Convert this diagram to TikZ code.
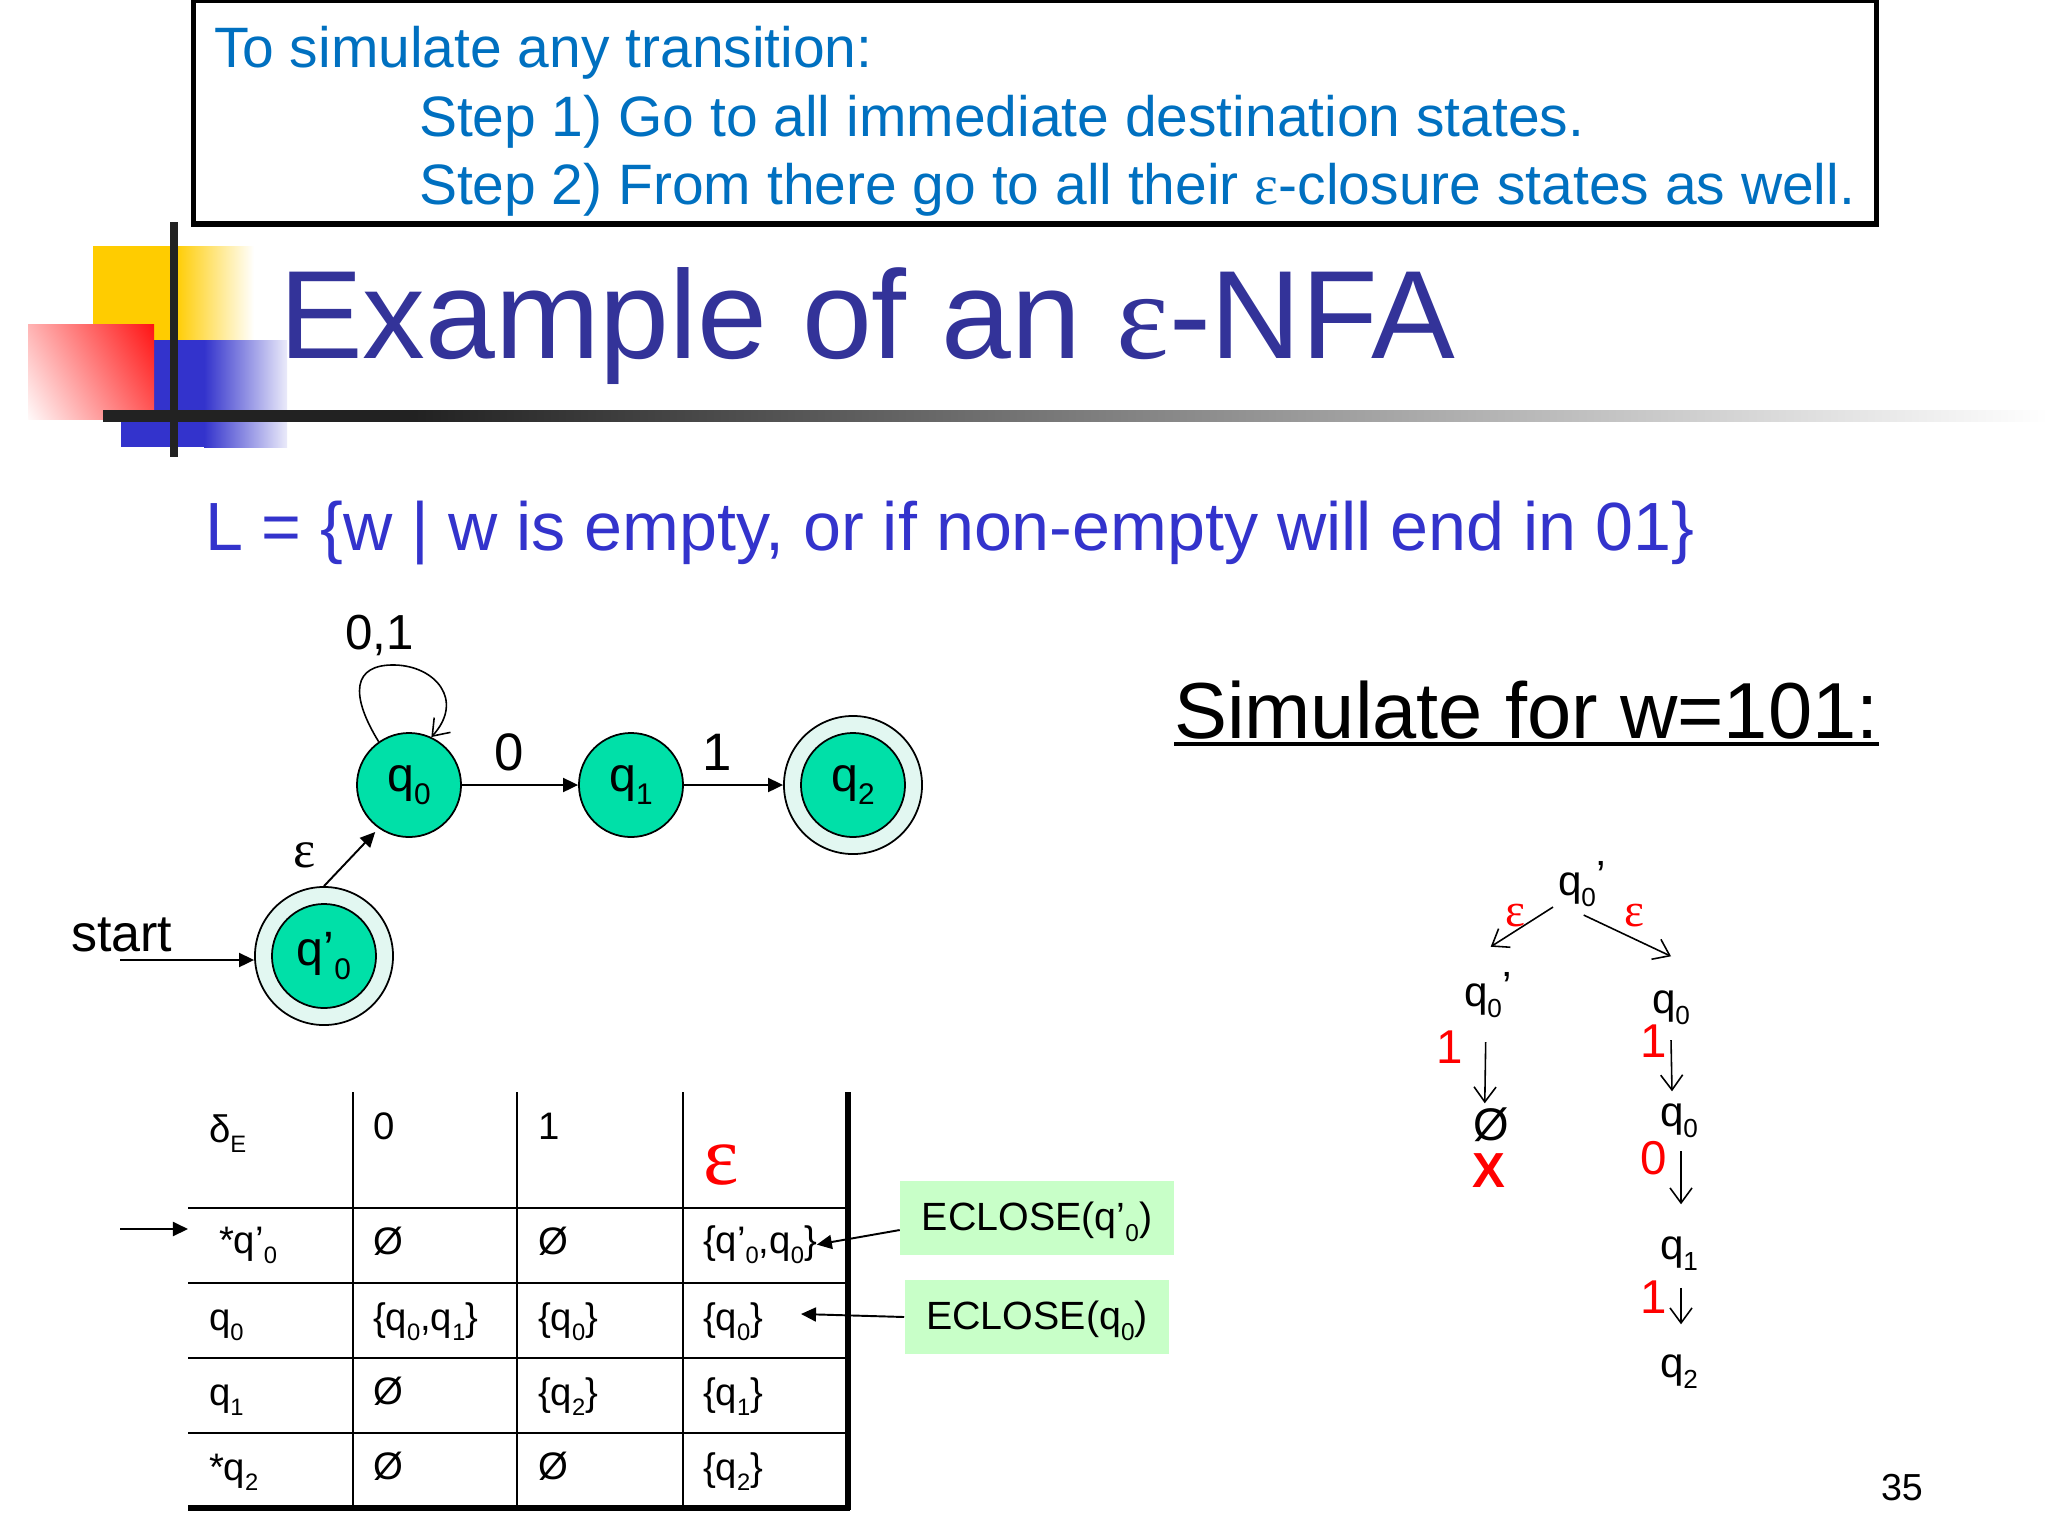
\documentclass[tikz,border=0pt]{standalone}
\usepackage{graphicx}
\usepackage{fontspec}
\setmainfont{Liberation Sans}
\newfontfamily\serifeps{Liberation Serif}
\usetikzlibrary{arrows.meta}
\definecolor{notecolor}{HTML}{0070C0}
\definecolor{titlecolor}{HTML}{333399}
\definecolor{langcolor}{HTML}{3333CC}
\definecolor{statecolor}{HTML}{00E0A8}
\definecolor{ringcolor}{HTML}{E2F7F1}
\definecolor{closecolor}{HTML}{C8FFC8}
\definecolor{barblue}{HTML}{3333CC}
\definecolor{baryellow}{HTML}{FFCC00}
\definecolor{barblack}{HTML}{222222}
\pgfdeclarehorizontalshading{barfade}{100bp}{color(0bp)=(barblack); color(33bp)=(barblack); color(75bp)=(white); color(100bp)=(white)}
\pgfdeclareverticalshading{redfade}{100bp}{color(0bp)=(white); color(14bp)=(white); color(90bp)=(red); color(100bp)=(red)}
\newcommand{\eps}{{\serifeps ε}}
\newcommand{\lowsub}[1]{\raisebox{-0.28em}{\scalebox{0.62}{#1}}}
\newcommand{\qs}[1]{q\lowsub{#1}}
\newcommand{\qp}[1]{q’\lowsub{#1}}
\newcommand{\fsz}[1]{\fontsize{#1pt}{#1pt}\selectfont}
\tikzset{
  txt/.style={inner sep=0pt,outer sep=0pt,anchor=base west},
  notetxt/.style={txt,text=notecolor,font=\fsz{16.2}},
  cell/.style={txt,font=\fsz{10.9}},
  treetxt/.style={txt,font=\fsz{12}},
  redtxt/.style={inner sep=0pt,text=red,font=\fsz{13.5}},
  state/.style={circle,draw,line width=0.5pt,fill=statecolor,minimum size=1.04cm,inner sep=0pt,font=\fsz{13.7}},
  ring/.style={circle,draw,line width=0.5pt,fill=ringcolor,minimum size=1.38cm,inner sep=0pt},
  edge/.style={line width=0.55pt,-{Triangle[length=1.5mm,width=1.4mm]}},
  opena/.style={line width=0.45pt,-{Straight Barb[length=1.5mm,width=2.2mm]}},
  closebox/.style={fill=closecolor,inner sep=0pt,font=\fsz{11.2},text height=9pt,text depth=2pt},
}
\begin{document}
\begin{tikzpicture}[x=0.01cm,y=-0.01cm]
    \useasboundingbox (0,0) rectangle (2048,1536);

    % Note box on top
    \node[draw,line width=1.5pt,minimum width=16.82cm,minimum height=2.24cm,inner sep=0pt] (notebox) at (1035,112) {};
    \node[notetxt] (note1) at (214,67) {To simulate any transition:};
    \node[notetxt] (note2) at (419,136) {Step 1) Go to all immediate destination states.};
    \node[notetxt] (note3) at (419,204) {Step 2) From there go to all their \eps-closure states as well.};

    % Coloured squares of the slide
    \fill[baryellow] (93,246) rectangle (176,341);
    \shade[left color=baryellow,right color=white] (175,246) rectangle (254,341);
    \fill[barblue] (121,340) rectangle (205,447);
    \shade[left color=barblue,right color=white!90!barblue] (204,340) rectangle (287,447);
    \shade[shading=redfade,shading angle=-60] (28,324) rectangle (154,419);
    \fill[barblack] (170,222) rectangle (178,457);
    \shade[shading=barfade] (103,410) rectangle (2048,421);

    % Title and language
    \node[txt,text=titlecolor,font=\fsz{35.7}] (title) at (279,358) {Example of an \eps-NFA};
    \node[txt,text=langcolor,font=\fsz{19.4}] (lang) at (205,550) {L = \{w | w is empty, or if non-empty will end in 01\}};

    % The automaton
    \node[state] (q0) at (409,785) {\qs{0}};
    \node[state] (q1) at (631,785) {\qs{1}};
    \node[ring] (q2r) at (853,785) {};
    \node[state] (q2) at (853,785) {\qs{2}};
    \node[ring] (qsr) at (324,956) {};
    \node[state] (qs) at (324,956) {\qp{0}};
    \coordinate (startpt) at (120,960);
    \node[txt,font=\fsz{14.8}] (startlab) at (71,951) {start};
    \node[txt,font=\fsz{14}] (looplab) at (345,649) {0,1};
    \node[inner sep=0pt,font=\fsz{15}] (q0lab) at (509,752) {0};
    \node[inner sep=0pt,font=\fsz{15}] (q1lab) at (717,752) {1};
    \node[inner sep=0pt,font=\fsz{15}] (epslab) at (305,855) {\eps};
    \draw[edge] (q0) -- (q1);
    \draw[edge] (q1) -- (q2r);
    \draw[edge] (startpt) -- (qsr.west |- startpt);
    \draw[edge,shorten >=0.5mm] (qsr.90) -- (q0.235);
    \draw[opena] (q0.125) .. controls (350,695) and (352,664) .. (395,665) .. controls (435,666) and (465,700) .. (q0.65);

    % Transition table
    \foreach \x in {353,517,683}
        \draw[line width=0.6pt] (\x,1092) -- (\x,1508);
    \foreach \y in {1208,1283,1358,1433}
        \draw[line width=0.8pt] (188,\y) -- (848,\y);
    \draw[line width=1.6pt] (188,1508) -- (850,1508);
    \draw[line width=1.6pt] (848,1092) -- (848,1510);

    % Table header
    \node[cell] (hd) at (209,1142) {δ\lowsub{E}};
    \node[cell] (hzero) at (373,1139) {0};
    \node[cell] (hone) at (538,1139) {1};
    \node[inner sep=0pt,text=red,font=\fsz{24}] (heps) at (721,1165) {\eps};

    % Table rows
    \node[cell] (r0) at (219,1253) {*\qp{0}};
    \node[cell] (r1) at (209,1330) {\qs{0}};
    \node[cell] (r2) at (209,1405) {\qs{1}};
    \node[cell] (r3) at (209,1480) {*\qs{2}};

    \node[cell] (c01) at (373,1254) {Ø};
    \node[cell] (c02) at (538,1254) {Ø};
    \node[cell] (c03) at (703,1253) {\{\qp{0},\qs{0}\}};
    \node[cell] (c11) at (373,1330) {\{\qs{0},\qs{1}\}};
    \node[cell] (c12) at (538,1330) {\{\qs{0}\}};
    \node[cell] (c13) at (703,1330) {\{\qs{0}\}};
    \node[cell] (c21) at (373,1404) {Ø};
    \node[cell] (c22) at (538,1405) {\{\qs{2}\}};
    \node[cell] (c23) at (703,1405) {\{\qs{1}\}};
    \node[cell] (c31) at (373,1479) {Ø};
    \node[cell] (c32) at (538,1479) {Ø};
    \node[cell] (c33) at (703,1480) {\{\qs{2}\}};

    % Start row arrow
    \coordinate (rowin) at (120,1229);
    \coordinate (rowend) at (188,1229);
    \draw[edge] (rowin) -- (rowend);

    % ECLOSE notes
    \node[closebox,minimum width=2.73cm,minimum height=0.74cm] (ecl0) at (1037,1218) {ECLOSE(\qp{0})};
    \node[closebox,minimum width=2.64cm,minimum height=0.74cm] (ecl1) at (1037,1317) {ECLOSE(\qs{0})};
    \coordinate (ecl1end) at (801,1314);
    \draw[edge] (ecl0.185) -- (c03.east);
    \draw[edge] (ecl1.west) -- (ecl1end);

    % Simulation title
    \node[txt,font=\fsz{22.6}] (simtitle) at (1174,738) {Simulate for w=101:};
    \draw[line width=0.9pt] ([yshift=-0.06cm]simtitle.base west) -- ([yshift=-0.06cm]simtitle.base east);

    % Simulation tree
    \node[treetxt] (t0) at (1558,895) {\qs{0}\raisebox{0.1em}{’}};
    \node[treetxt] (tl) at (1464,1006) {\qs{0}\raisebox{0.1em}{’}};
    \node[treetxt] (tr) at (1652,1013) {\qs{0}};
    \node[txt,font=\fsz{13}] (tnull) at (1473,1140) {Ø};
    \node[txt,text=red,font=\fsz{14}\bfseries] (tx) at (1472,1187) {X};
    \node[treetxt] (tq0) at (1660,1126) {\qs{0}};
    \node[treetxt] (tq1) at (1660,1259) {\qs{1}};
    \node[treetxt] (tq2) at (1660,1377) {\qs{2}};

    \draw[opena] ([xshift=-0.05cm]t0.south west) -- ([xshift=0.03cm,yshift=0.26cm]tl.north);
    \draw[opena] ([xshift=0.02cm,yshift=-0.08cm]t0.south) -- ([yshift=0.34cm]tr.north);
    \draw[opena] ([xshift=-0.02cm,yshift=-0.24cm]tl.south) -- ([xshift=-0.06cm,yshift=0.04cm]tnull.north);
    \draw[opena] ([yshift=-0.15cm]tr.south) -- ([xshift=-0.07cm,yshift=0.12cm]tq0.north);
    \draw[opena] ([xshift=0.02cm,yshift=-0.13cm]tq0.south) -- ([xshift=0.02cm,yshift=0.32cm]tq1.north);
    \draw[opena] ([xshift=0.02cm,yshift=-0.17cm]tq1.south) -- ([xshift=0.02cm,yshift=0.30cm]tq2.north);

    % Red labels of the tree
    \node[redtxt] (te1) at (1515,916) {\eps};
    \node[redtxt] (te2) at (1634,916) {\eps};
    \node[redtxt] (tl1) at (1450,1047) {1};
    \node[redtxt] (tr1) at (1654,1041) {1};
    \node[redtxt] (tr2) at (1654,1158) {0};
    \node[redtxt] (tr3) at (1654,1297) {1};

    % Page number
    \node[txt,font=\fsz{10.7}] (pagenum) at (1881,1500) {35};
\end{tikzpicture}
\end{document}
